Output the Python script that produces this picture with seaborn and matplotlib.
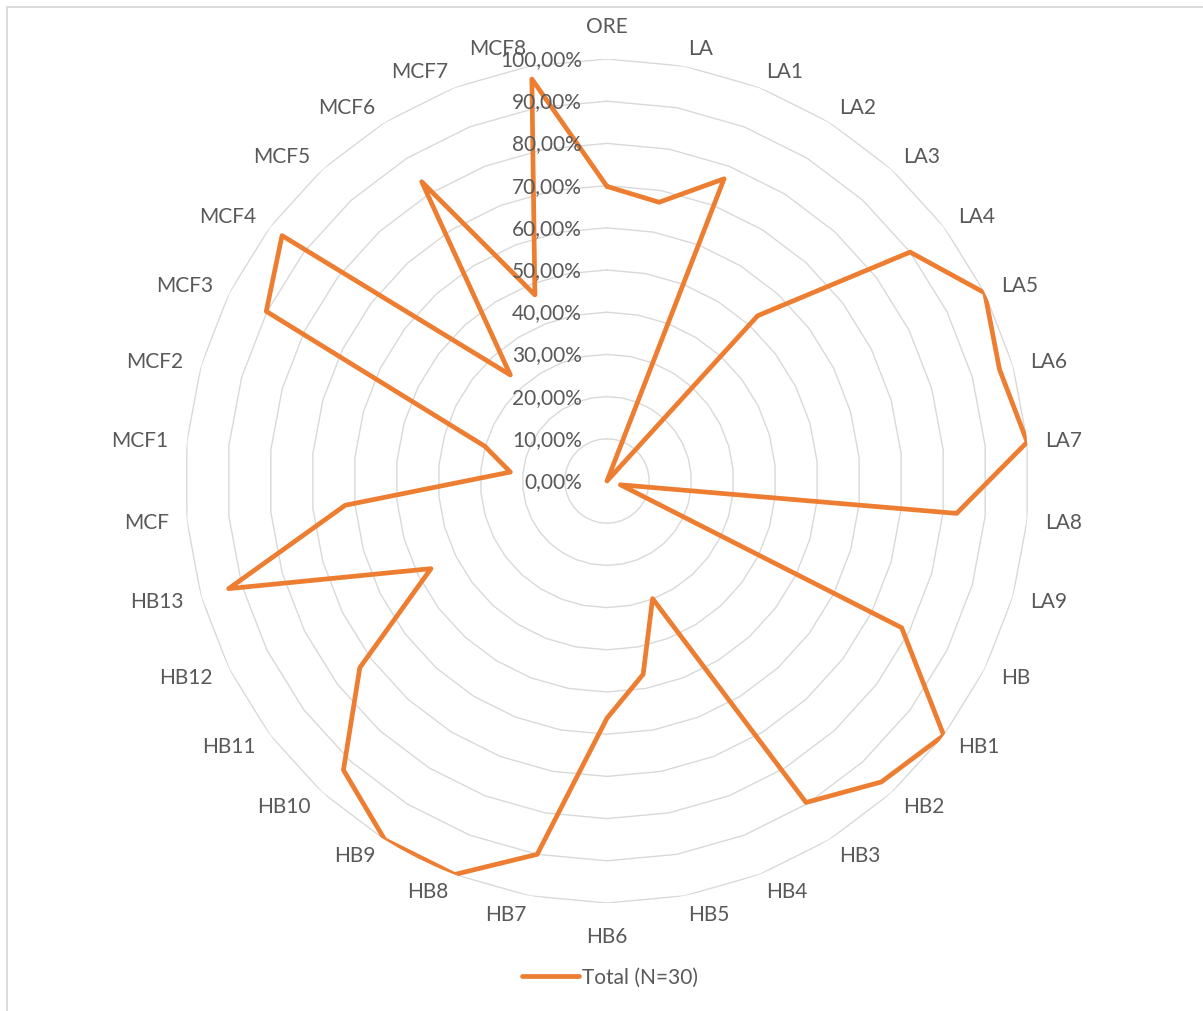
import numpy as np
import pandas as pd
import matplotlib
matplotlib.use("Agg")
import matplotlib.pyplot as plt
import matplotlib.transforms as mtransforms
from matplotlib.lines import Line2D
import seaborn as sns

# Categories around the radar, clockwise from the top
categories = ["ORE", "LA", "LA1", "LA2", "LA3", "LA4", "LA5", "LA6", "LA7", "LA8", "LA9",
              "HB", "HB1", "HB2", "HB3", "HB4", "HB5", "HB6", "HB7", "HB8", "HB9", "HB10",
              "HB11", "HB12", "HB13", "MCF", "MCF1", "MCF2", "MCF3", "MCF4", "MCF5",
              "MCF6", "MCF7", "MCF8"]
# Share of respondents (%) per category
values = [69.8, 67.2, 76.8, 0.0, 53.0, 90.0, 100.0, 96.7, 100.0, 83.2, 3.3,
          78.0, 100.0, 96.5, 89.6, 29.9, 46.6, 56.2, 90.0, 100.0, 100.0, 92.7,
          73.4, 46.6, 93.2, 62.3, 23.0, 30.1, 90.2, 96.5, 34.0,
          83.4, 47.3, 96.9]
tick_levels = [0, 10, 20, 30, 40, 50, 60, 70, 80, 90, 100]
tick_labels = ["0,00%", "10,00%", "20,00%", "30,00%", "40,00%", "50,00%",
               "60,00%", "70,00%", "80,00%", "90,00%", "100,00%"]
series_name = "Total (N=30)"

sns.set_theme(style="white")
plt.rcParams["font.family"] = ["Lato", "DejaVu Sans"]

TEXT = "#595959"
GRID = "#D9D9D9"
ORANGE = "#ED7D31"
FS = 15

W, H = 1203, 1012
fig = plt.figure(figsize=(W / 100, H / 100), dpi=100)
cx, cy, R = 607, 482, 422
ax = fig.add_axes([(cx - R) / W, (H - cy - R) / H, 2 * R / W, 2 * R / H],
                  projection="polar")
ax.set_theta_zero_location("N")
ax.set_theta_direction(-1)
ax.grid(False)
ax.spines["polar"].set_visible(False)
ax.set_xticks([])
ax.set_yticks([])
ax.patch.set_alpha(0)

n = len(categories)
theta = np.arange(n) * 2 * np.pi / n
theta_closed = np.append(theta, 2 * np.pi)

# polygonal rings every 10 %
for lvl in tick_levels[1:]:
    ax.plot(theta_closed, [lvl] * (n + 1), color=GRID, lw=1.0, zorder=1)

df = pd.DataFrame({
    "angle": theta_closed,
    "share": values + [values[0]],
    "series": series_name,
})
sns.lineplot(data=df, x="angle", y="share", hue="series", palette=[ORANGE],
             sort=False, estimator=None, lw=3.4, ax=ax, zorder=3)
for ln in ax.lines[-1:]:
    ln.set_solid_joinstyle("round")
    ln.set_solid_capstyle("round")
ax.set_ylim(0, 100)
ax.set_xlabel("")
ax.set_ylabel("")

# radial value labels along the top spoke
off = mtransforms.offset_copy(ax.transData, fig=fig, x=-25, y=0, units="dots")
for lvl, lab in zip(tick_levels, tick_labels):
    ax.text(0, lvl, lab, transform=off, ha="right", va="center",
            fontsize=FS, color=TEXT, zorder=5)

# category labels
for th, lab in zip(theta, categories):
    s, c = np.sin(th), np.cos(th)
    if abs(s) < 1e-6:
        ax.text(th, 105.5, lab, ha="center", va="bottom" if c > 0 else "top",
                fontsize=FS, color=TEXT)
    else:
        ax.text(th, 104.3, lab, ha="left" if s > 0 else "right", va="center",
                fontsize=FS, color=TEXT)

# legend below the chart
handles, labels = ax.get_legend_handles_labels()
if ax.get_legend() is not None:
    ax.get_legend().remove()
fig.legend(handles, labels, loc="center", bbox_to_anchor=(610 / W, 1 - 978 / H),
           frameon=False, fontsize=FS, handlelength=2.7, handletextpad=0.15,
           labelcolor=TEXT)

# chart border
fig.add_artist(Line2D([6.5 / W, 1], [1 - 7.5 / H] * 2, transform=fig.transFigure,
                      color=GRID, lw=1.3))
fig.add_artist(Line2D([6.5 / W] * 2, [0, 1 - 7.5 / H], transform=fig.transFigure,
                      color=GRID, lw=1.3))

fig.savefig("out.png", dpi=100, facecolor="white")
